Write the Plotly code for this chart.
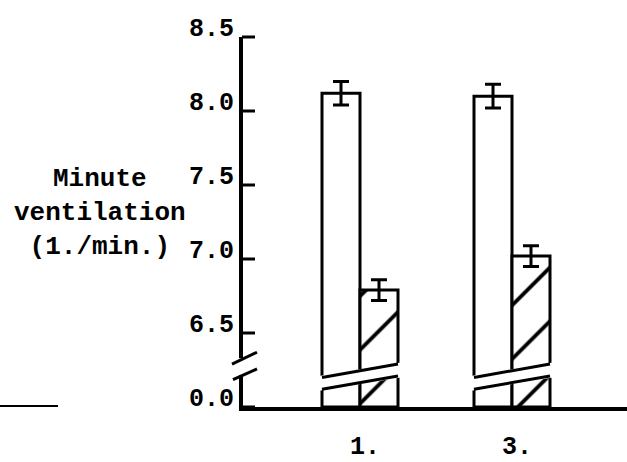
import plotly.graph_objects as go

# ---- data ----
categories = ["1.", "3."]
open_values = [8.12, 8.10]
open_errors = [0.08, 0.08]
hatched_values = [6.79, 7.02]
hatched_errors = [0.07, 0.07]
tick_values = [6.0, 6.5, 7.0, 7.5, 8.0, 8.5]
tick_labels = ["0.0", "6.5", "7.0", "7.5", "8.0", "8.5"]
y_title = "Minute<br>ventilation<br>(1./min.)"

FONT = "Liberation Mono"
BREAK_BASE = 6.0          # axis position that stands for 0.0
Y_TOP = 8.5
W, H = 627, 462
ML, MR, MT, MB = 243, 0, 37, 46
PW = W - ML - MR
xpos = list(range(len(categories)))
px_per_unit = 152.0
x_start = -(360 - ML) / px_per_unit
x_end = x_start + PW / px_per_unit

fig = go.Figure()
err_style = dict(type="data", color="black", thickness=3, width=8)
fig.add_trace(go.Bar(
    x=xpos, y=[v - BREAK_BASE for v in open_values], base=BREAK_BASE,
    marker=dict(color="white", line=dict(color="black", width=3)),
    error_y=dict(array=open_errors, **err_style), showlegend=False))
fig.add_trace(go.Bar(
    x=xpos, y=[v - BREAK_BASE for v in hatched_values], base=BREAK_BASE,
    marker=dict(color="white", line=dict(color="black", width=3),
                pattern=dict(shape="/", fgcolor="black", bgcolor="white",
                             fgopacity=1, fillmode="replace",
                             size=38, solidity=0.1)),
    error_y=dict(array=hatched_errors, **err_style), showlegend=False))

def px(p):
    return (p - ML) / PW

def ypaper(v):
    return (v - BREAK_BASE) / (Y_TOP - BREAK_BASE)

shapes = []
# y-axis tick marks pointing into the plot
for tv in tick_values:
    shapes.append(dict(type="line", xref="paper", yref="paper", layer="above",
                       x0=px(ML - 1), x1=px(ML + 12), y0=ypaper(tv), y1=ypaper(tv),
                       line=dict(color="black", width=3)))
# bar breaks (slanted gap)
half = 0.25
pad = 3 / px_per_unit
lo_l, lo_r, up_l, up_r = 6.12, 6.21, 6.20, 6.29
for c in xpos:
    xl, xr = c - half, c + half
    shapes.append(dict(type="path", xref="x", yref="y", layer="above",
                       path=f"M {xl-pad},{lo_l-0.01} L {xr+pad},{lo_r-0.01} L {xr+pad},{up_r+0.01} L {xl-pad},{up_l+0.01} Z",
                       fillcolor="white", line=dict(width=0)))
    shapes.append(dict(type="line", xref="x", yref="y", layer="above",
                       x0=xl, y0=lo_l, x1=xr, y1=lo_r, line=dict(color="black", width=3)))
    shapes.append(dict(type="line", xref="x", yref="y", layer="above",
                       x0=xl, y0=up_l, x1=xr, y1=up_r, line=dict(color="black", width=3)))
# axis break
shapes.append(dict(type="rect", xref="paper", yref="y", layer="above",
                   x0=px(237), x1=px(248), y0=6.215, y1=6.33,
                   fillcolor="white", line=dict(width=0)))
shapes.append(dict(type="line", xref="paper", yref="y", layer="above",
                   x0=px(232), y0=6.29, x1=px(257), y1=6.37, line=dict(color="black", width=3)))
shapes.append(dict(type="line", xref="paper", yref="y", layer="above",
                   x0=px(233), y0=6.185, x1=px(257), y1=6.257, line=dict(color="black", width=3)))
# stray baseline segment of neighbouring panel at far left
shapes.append(dict(type="line", xref="paper", yref="y", layer="above",
                   x0=px(0), y0=BREAK_BASE, x1=px(58), y1=BREAK_BASE,
                   line=dict(color="black", width=4)))

fig.update_layout(
    width=W, height=H,
    margin=dict(l=ML, r=MR, t=MT, b=MB),
    paper_bgcolor="white", plot_bgcolor="white",
    barmode="group", bargap=0.5, bargroupgap=0.0,
    font=dict(family=FONT, size=25, color="black"),
    shapes=shapes,
    xaxis=dict(range=[x_start, x_end], tickvals=xpos, ticktext=categories,
               showline=True, linecolor="black", linewidth=4, ticks="",
               ticklabelstandoff=13, ticklabelshift=5,
               showgrid=False, zeroline=False,
               tickfont=dict(family=FONT, size=25, color="black", weight="bold")),
    yaxis=dict(range=[BREAK_BASE, Y_TOP], tickvals=tick_values, ticktext=tick_labels,
               showline=True, linecolor="black", linewidth=4, ticks="",
               ticklabelshift=-10, ticklabelstandoff=0,
               showgrid=False, zeroline=False,
               tickfont=dict(family=FONT, size=25, color="black", weight="bold")),
    annotations=[dict(text=y_title, xref="paper", yref="y", x=px(100), y=7.31,
                      xanchor="center", yanchor="middle", showarrow=False,
                      font=dict(family=FONT, size=26, color="black", weight="bold"))],
)

fig.write_html("out.html", config={"displayModeBar": False},
               post_script="document.body.style.margin='0';")
